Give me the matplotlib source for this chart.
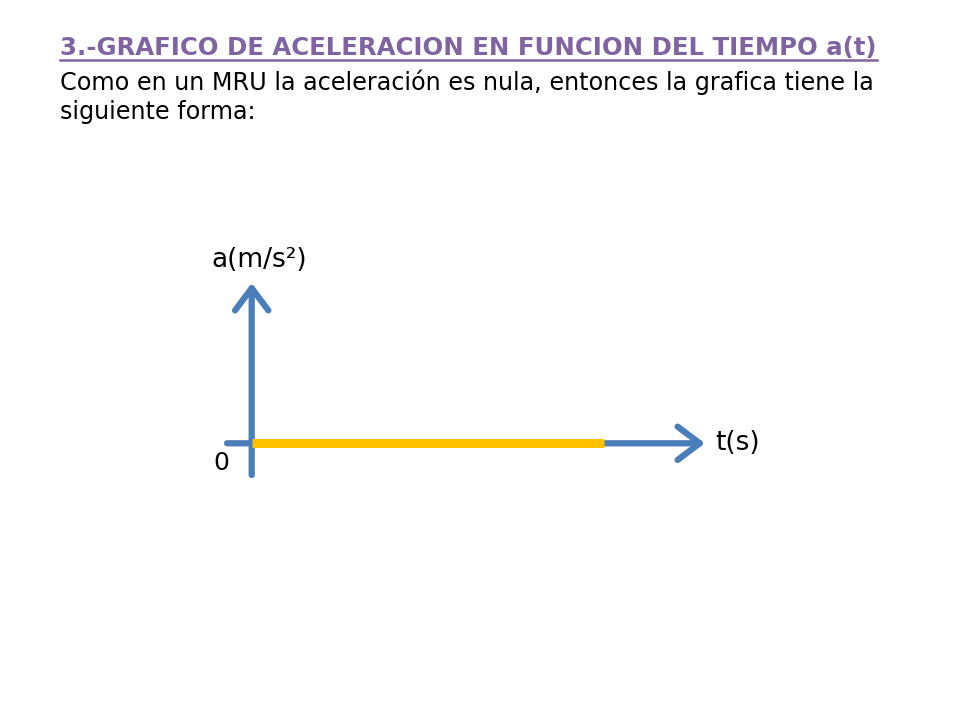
import matplotlib
matplotlib.use('Agg')
import matplotlib.pyplot as plt

# datos de la grafica a(t): MRU -> aceleracion nula
t_vals = [0, 10]
a_vals = [0, 0]
t_axis = [-0.7, 12.85]
a_axis = [-0.95, 4.5]

titulo = '3.-GRAFICO DE ACELERACION EN FUNCION DEL TIEMPO a(t)'
linea1 = 'Como en un MRU la aceleración es nula, entonces la grafica tiene la'
linea2 = 'siguiente forma:'

W, H = 960, 720
fig = plt.figure(figsize=(9.6, 7.2), dpi=100)
fig.patch.set_facecolor('white')

# textos de cabecera (coordenadas de figura en pixeles)
def px(x, y):
    return x / W, 1 - y / H

t1 = fig.text(*px(60, 48), titulo, fontsize=15, fontweight='bold', color='#8064A2',
              va='center', ha='left', family='DejaVu Sans')
t2 = fig.text(*px(60, 82), linea1, fontsize=15, color='black', va='center', ha='left')
t3 = fig.text(*px(60, 112), linea2, fontsize=15, color='black', va='center', ha='left')

# ajustar tamaño para que el ancho coincida
fig.canvas.draw()
r = fig.canvas.get_renderer()
for txt, ancho in ((t1, 815), (t2, 815)):
    w = txt.get_window_extent(r).width
    txt.set_fontsize(txt.get_fontsize() * ancho / w)
t3.set_fontsize(t2.get_fontsize())
fig.canvas.draw()

# subrayado del titulo
bb = t1.get_window_extent(r)
fig.add_artist(plt.Line2D([bb.x0 / W, bb.x1 / W], [px(0, 60)[1]] * 2, color='#8064A2', lw=1.8))

# ejes de la grafica
x0, x1, y0, y1 = 227, 705, 283, 475
ax = fig.add_axes([x0 / W, 1 - y1 / H, (x1 - x0) / W, (y1 - y0) / H])
ax.set_xlim(t_axis)
ax.set_ylim(a_axis[0], 4.8)
ax.axis('off')

azul = '#4A7EBB'
arrow = dict(arrowstyle='->,head_length=0.8,head_width=0.6', lw=4.5, color=azul,
             mutation_scale=20, shrinkA=0, shrinkB=0, capstyle='round')
ax.annotate('', xy=(t_axis[1], 0), xytext=(t_axis[0], 0), arrowprops=arrow,
            annotation_clip=False)
ax.annotate('', xy=(0, 4.8), xytext=(0, a_axis[0]), arrowprops=arrow,
            annotation_clip=False)

ax.plot(t_vals, a_vals, color='#FFC000', lw=6.5, solid_capstyle='butt', zorder=5)

ax.text(t_axis[1] + 0.3, 0, 't(s)', fontsize=19, va='center', ha='left')
ax.text(-0.85, -0.6, '0', fontsize=18, va='center', ha='center')
ax.text(0.2, 5.5, 'a(m/s\u00b2)', fontsize=19, va='center', ha='center')

fig.savefig('out.png', dpi=100, facecolor='white')
